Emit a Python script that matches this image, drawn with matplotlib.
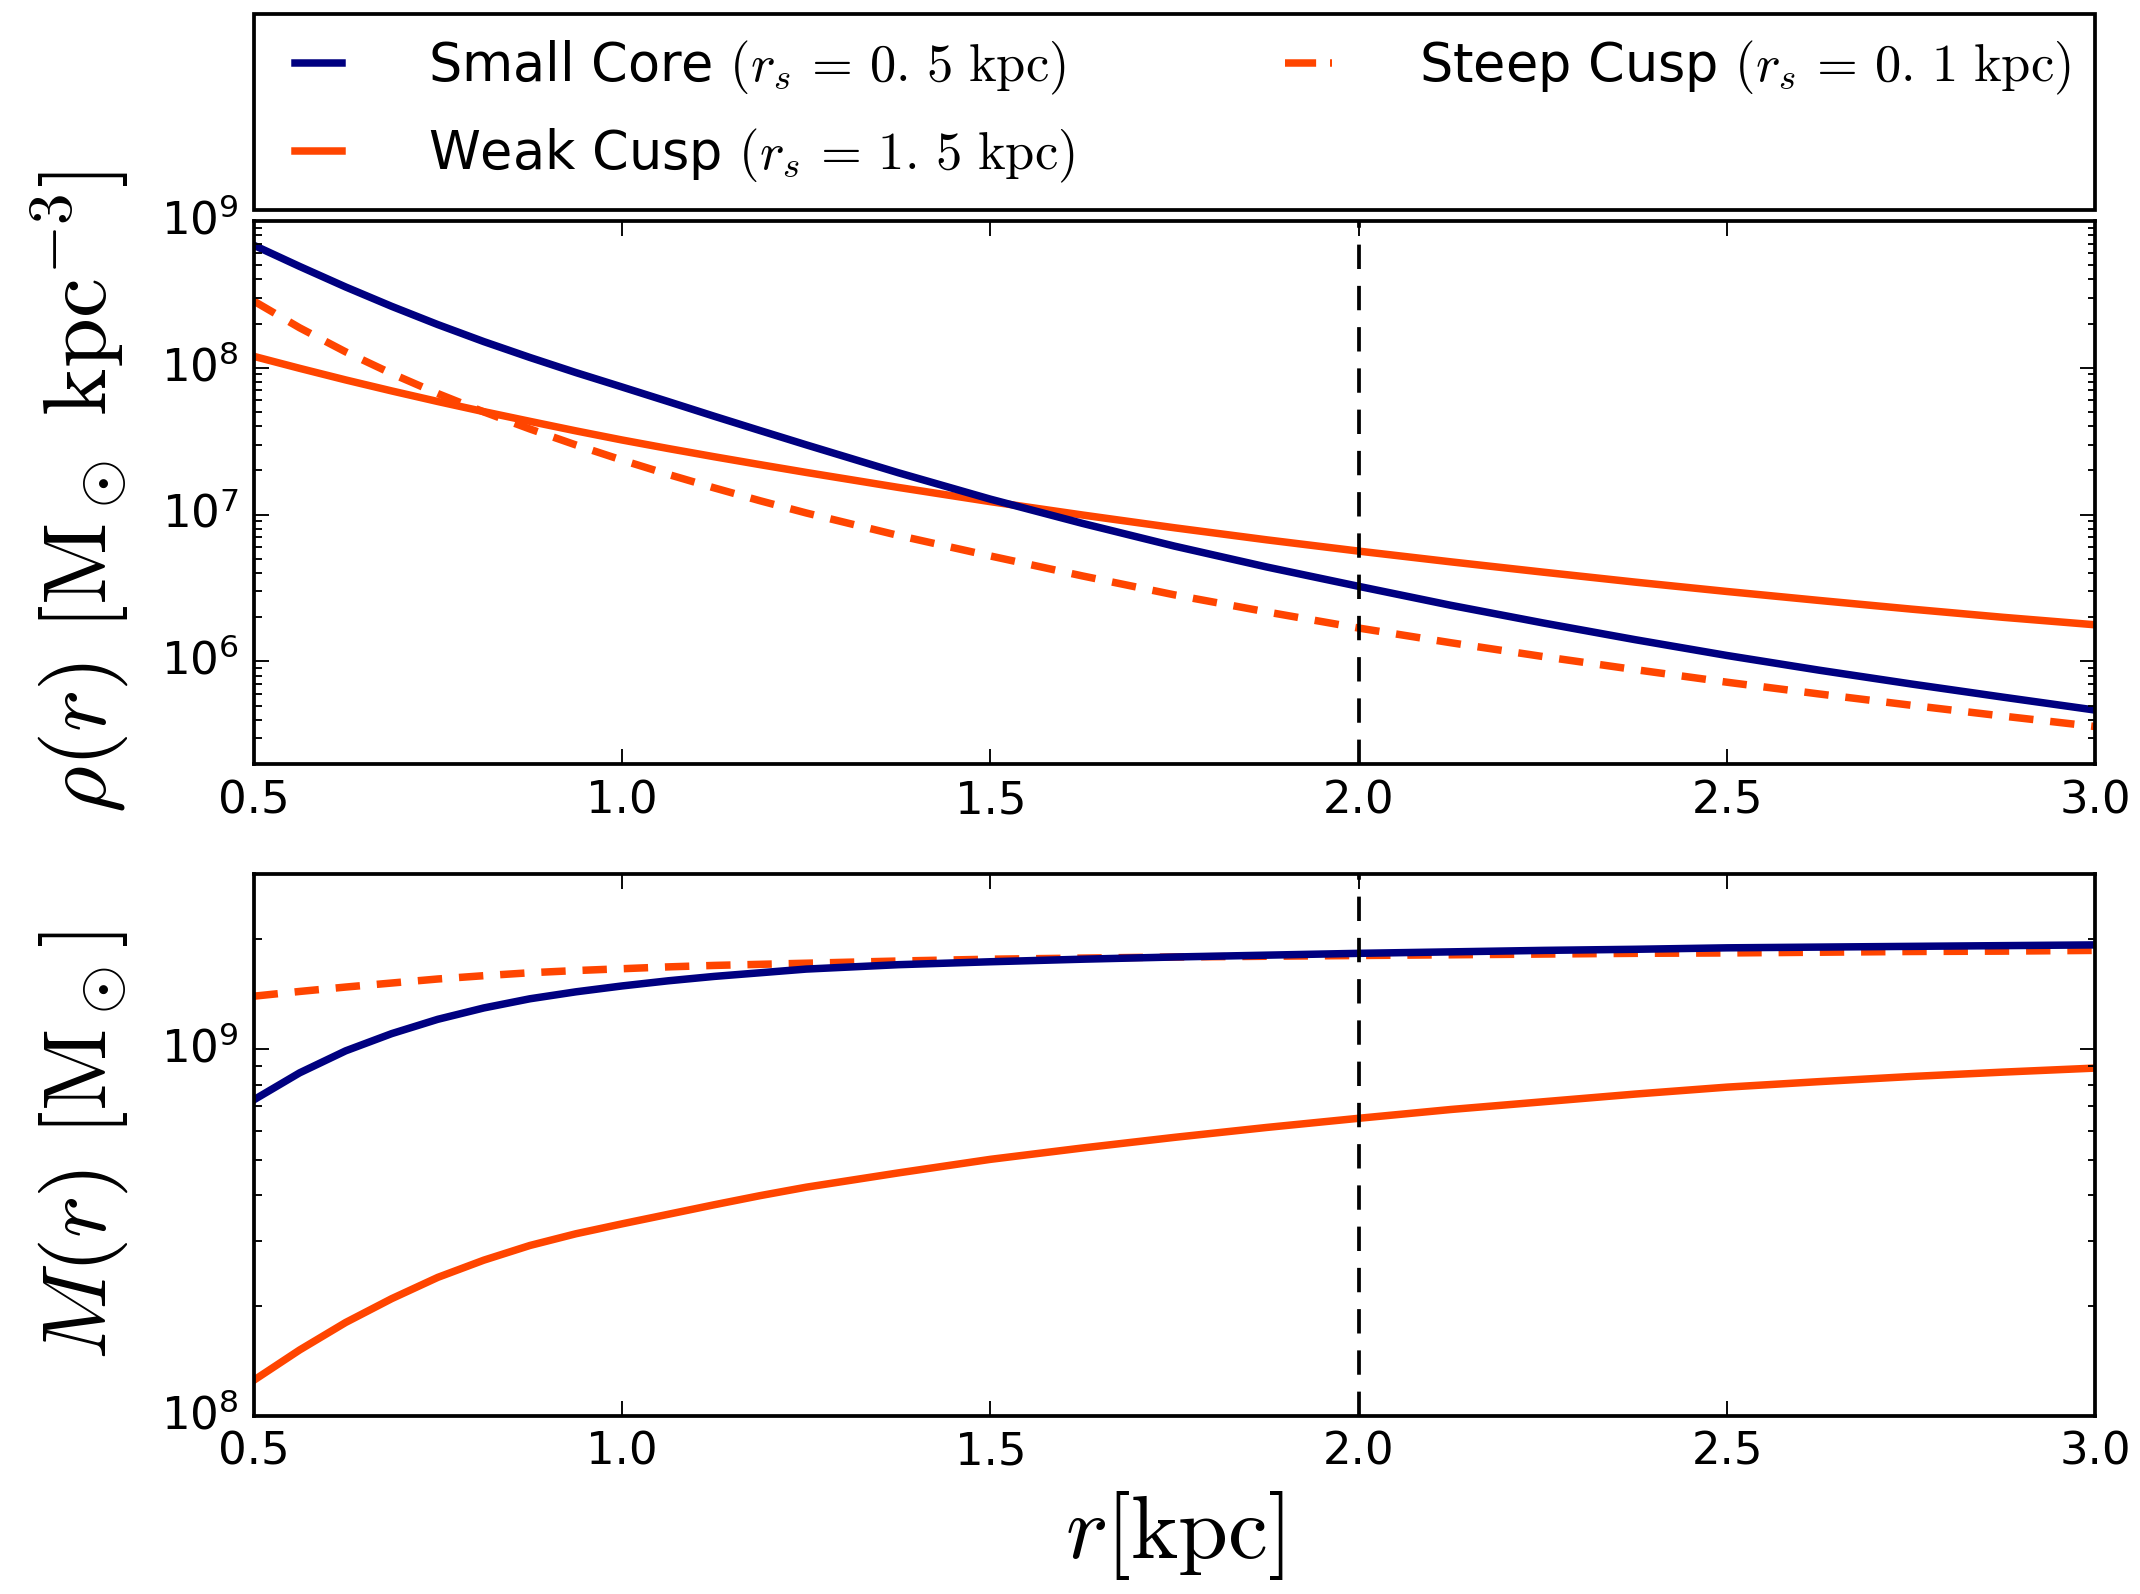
import matplotlib
matplotlib.use('Agg')
import matplotlib.pyplot as plt
from matplotlib.lines import Line2D
import numpy as np

plt.style.use('classic')
plt.rcParams['lines.scale_dashes'] = False
plt.rcParams['mathtext.fontset'] = 'cm'

# radius grid [kpc]
r = [0.5, 0.5625, 0.625, 0.6875, 0.75, 0.8125, 0.875, 0.9375, 1.0, 1.0625,
     1.125, 1.1875, 1.25, 1.375, 1.5, 1.625, 1.75, 1.875, 2.0, 2.125, 2.25,
     2.375, 2.5, 2.625, 2.75, 2.875, 3.0]

# log10 density rho(r) [Msun kpc^-3]
log_rho_small = [8.835, 8.690, 8.550, 8.418, 8.294, 8.178, 8.070, 7.967, 7.869,
                 7.770, 7.670, 7.572, 7.475, 7.285, 7.105, 6.940, 6.785, 6.643,
                 6.511, 6.382, 6.262, 6.148, 6.040, 5.940, 5.846, 5.756, 5.668]
log_rho_weak = [8.078, 7.996, 7.917, 7.842, 7.770, 7.701, 7.635, 7.570, 7.508,
                7.450, 7.394, 7.340, 7.287, 7.185, 7.088, 6.997, 6.910, 6.828,
                6.751, 6.678, 6.608, 6.540, 6.476, 6.415, 6.356, 6.300, 6.249]
log_rho_steep = [8.455, 8.272, 8.108, 7.960, 7.824, 7.699, 7.583, 7.474, 7.371,
                 7.274, 7.182, 7.094, 7.011, 6.858, 6.718, 6.582, 6.453, 6.337,
                 6.227, 6.127, 6.033, 5.944, 5.858, 5.778, 5.701, 5.627, 5.556]

# log10 enclosed mass M(r) [Msun]
log_m_small = [8.862, 8.936, 8.996, 9.043, 9.082, 9.113, 9.138, 9.157, 9.173,
               9.187, 9.199, 9.209, 9.219, 9.231, 9.239, 9.246, 9.252, 9.257,
               9.262, 9.266, 9.270, 9.273, 9.277, 9.279, 9.281, 9.283, 9.285]
log_m_weak = [8.097, 8.180, 8.255, 8.320, 8.378, 8.425, 8.465, 8.497, 8.524,
              8.550, 8.576, 8.601, 8.624, 8.663, 8.700, 8.731, 8.760, 8.787,
              8.812, 8.836, 8.857, 8.878, 8.897, 8.912, 8.926, 8.938, 8.949]
log_m_steep = [9.145, 9.158, 9.170, 9.181, 9.192, 9.201, 9.209, 9.215, 9.220,
               9.225, 9.229, 9.232, 9.235, 9.241, 9.246, 9.249, 9.252, 9.254,
               9.256, 9.258, 9.260, 9.262, 9.263, 9.265, 9.267, 9.268, 9.270]

labels = [r'Small Core $(r_s\,=\,0.\,5\ \mathrm{kpc})$',
          r'Weak Cusp $(r_s\,=\,1.\,5\ \mathrm{kpc})$',
          r'Steep Cusp $(r_s\,=\,0.\,1\ \mathrm{kpc})$']
r_mark = 2.0

navy = '#000080'
orange = '#ff4500'

fig = plt.figure(figsize=(2140 / 270., 1594 / 270.), facecolor='white')
ax1 = fig.add_axes([0.1185, 0.5207, 0.8607, 0.3407])
ax2 = fig.add_axes([0.1185, 0.1117, 0.8607, 0.3397])

panels = [(ax1, log_rho_small, log_rho_weak, log_rho_steep),
          (ax2, log_m_small, log_m_weak, log_m_steep)]
for ax, small, weak, steep in panels:
    l_weak, = ax.plot(r, np.power(10., weak), color=orange, lw=2)
    ax.plot(r, np.power(10., steep), color=orange, lw=2, dashes=(6.5, 4.5))
    l_small, = ax.plot(r, np.power(10., small), color=navy, lw=2)
    ax.axvline(r_mark, color='k', lw=1, dashes=(6.5, 4.5))
    ax.set_yscale('log')
    ax.set_xlim(0.5, 3.0)
    ax.tick_params(labelsize=12)
    ax.set_facecolor('white')

# legend handle for the dashed curve (two full dashes like the original)
l_steep = Line2D([], [], color=orange, lw=2, dashes=(8.3, 3.7))

ax1.set_ylim(2e5, 1e9)
ax2.set_ylim(1e8, 3e9)

ax1.set_ylabel(r'$\rho(r)\ [\mathrm{M}_\odot\ \mathrm{kpc}^{-3}]$', fontsize=24)
ax2.set_ylabel(r'$M(r)\ [\mathrm{M}_\odot]$', fontsize=24)
ax2.set_xlabel(r'$r[\mathrm{kpc}]$', fontsize=24)
ax1.yaxis.set_label_coords(-0.067, 0.5)
ax2.yaxis.set_label_coords(-0.067, 0.5)
ax2.xaxis.set_label_coords(0.5, -0.135)

ax1.legend([l_small, l_weak, l_steep], labels, ncol=2, loc='lower left',
           bbox_to_anchor=(0, 1.02, 1, 0.2), mode='expand', borderaxespad=0,
           fontsize=14, handlelength=1.5, handletextpad=1.35,
           labelspacing=0.56, borderpad=0.48, fancybox=False, frameon=True)

fig.savefig('out.png', dpi=270, facecolor='white')
